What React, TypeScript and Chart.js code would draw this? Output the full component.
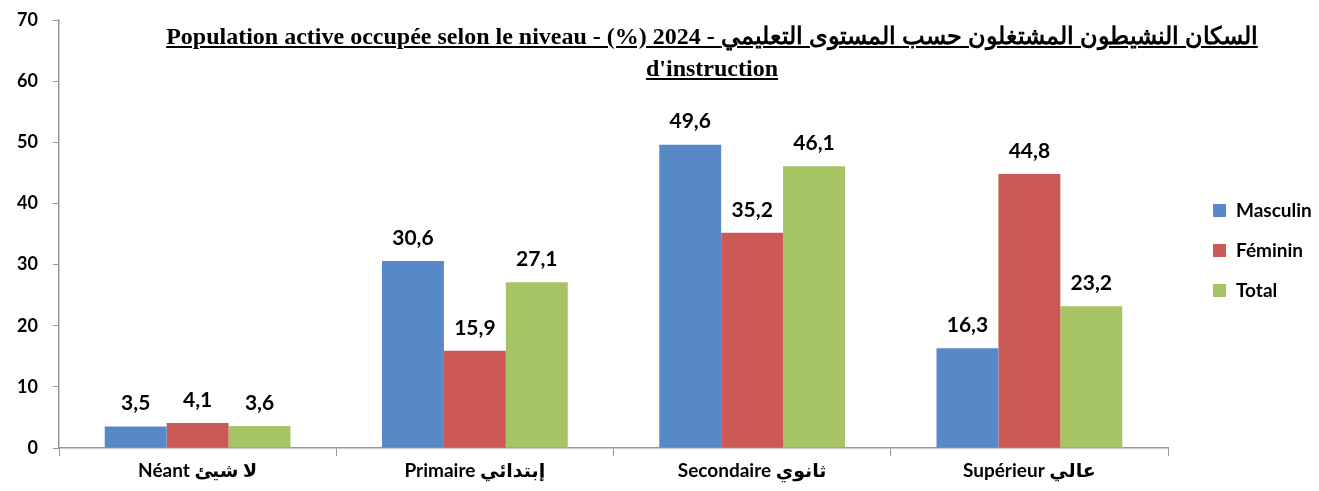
import React, { useEffect, useRef } from "react";
import { Chart, registerables } from "chart.js";

Chart.register(...registerables);

const categories = ["Néant لا شيئ", "Primaire إبتدائي", "Secondaire ثانوي", "Supérieur عالي"];
const masculin = [3.5, 30.6, 49.6, 16.3];
const feminin = [4.1, 15.9, 35.2, 44.8];
const total = [3.6, 27.1, 46.1, 23.2];
const seriesNames = ["Masculin", "Féminin", "Total"];
const seriesColors = ["#5789C8", "#CB5955", "#A6C464"];
const yTicks = [0, 10, 20, 30, 40, 50, 60, 70];
const titleLine1 = "Population active occupée selon le niveau - (%) 2024 - السكان النشيطون المشتغلون حسب المستوى التعليمي";
const titleLine2 = "d'instruction";

const FONT = "Lato, 'DejaVu Sans', sans-serif";

const valueLabels = {
  id: "valueLabels",
  afterDatasetsDraw(chart: any) {
    const ctx = chart.ctx;
    ctx.save();
    ctx.font = `bold 21px ${FONT}`;
    ctx.fillStyle = "#000";
    ctx.textAlign = "center";
    ctx.textBaseline = "middle";
    chart.data.datasets.forEach((ds: any, i: number) => {
      const meta = chart.getDatasetMeta(i);
      meta.data.forEach((bar: any, j: number) => {
        const v = ds.data[j];
        ctx.fillText(String(v).replace(".", ","), bar.x, bar.y - 23);
      });
    });
    ctx.restore();
  },
};

const customLegend = {
  id: "customLegend",
  afterDraw(chart: any) {
    const ctx = chart.ctx;
    ctx.save();
    ctx.font = `bold 19px ${FONT}`;
    ctx.textAlign = "left";
    ctx.textBaseline = "middle";
    seriesNames.forEach((name, i) => {
      const y = 210 + i * 40;
      ctx.fillStyle = seriesColors[i];
      ctx.fillRect(1213, y - 6, 13, 13);
      ctx.fillStyle = "#000";
      ctx.fillText(name, 1236, y + 1);
    });
    ctx.restore();
  },
};

export default function App() {
  const ref = useRef<HTMLCanvasElement>(null);
  useEffect(() => {
    const chart = new Chart(ref.current!, {
      type: "bar",
      data: {
        labels: categories,
        datasets: [
          { label: seriesNames[0], data: masculin, backgroundColor: seriesColors[0] },
          { label: seriesNames[1], data: feminin, backgroundColor: seriesColors[1] },
          { label: seriesNames[2], data: total, backgroundColor: seriesColors[2] },
        ],
      },
      options: {
        animation: false,
        responsive: true,
        maintainAspectRatio: false,
        datasets: { bar: { categoryPercentage: 0.67, barPercentage: 1 } },
        layout: { padding: { top: 20, right: 151, left: 0, bottom: 0 } },
        plugins: { legend: { display: false }, title: { display: false }, tooltip: { enabled: false } },
        scales: {
          x: {
            offset: true,
            grid: { display: true, drawOnChartArea: false, drawTicks: true, tickLength: 8, color: "#999", offset: true },
            border: { color: "#999", width: 1.5 },
            ticks: { color: "#000", font: { family: FONT, size: 19, weight: "bold" }, padding: 3 },
            afterFit: (s: any) => { s.height = 43; },
          },
          y: {
            min: 0,
            max: 70,
            afterBuildTicks: (s: any) => { s.ticks = yTicks.map((v) => ({ value: v })); },
            grid: { display: true, drawOnChartArea: false, drawTicks: true, tickLength: 6, color: "#999" },
            border: { color: "#999", width: 1.5 },
            ticks: { color: "#000", font: { family: FONT, size: 18, weight: "bold" }, padding: 15 },
            afterFit: (s: any) => { s.width = 59; s.paddingTop = 0; },
          },
        },
      },
      plugins: [valueLabels, customLegend],
    } as any);
    return () => chart.destroy();
  }, []);
  return (
    <div style={{ position: "fixed", left: 0, top: 0, width: 1319, height: 491, background: "#fff" }}>
      <canvas ref={ref} />
      <div
        style={{
          position: "absolute",
          left: 0,
          width: 1424,
          top: 20,
          textAlign: "center",
          fontFamily: "'Liberation Serif', 'Times New Roman', serif",
          fontWeight: "bold",
          fontSize: 24,
          lineHeight: "32px",
          textDecoration: "underline",
          direction: "ltr",
          color: "#000",
          pointerEvents: "none",
        }}
      >
        <div>{titleLine1}</div>
        <div>{titleLine2}</div>
      </div>
    </div>
  );
}
